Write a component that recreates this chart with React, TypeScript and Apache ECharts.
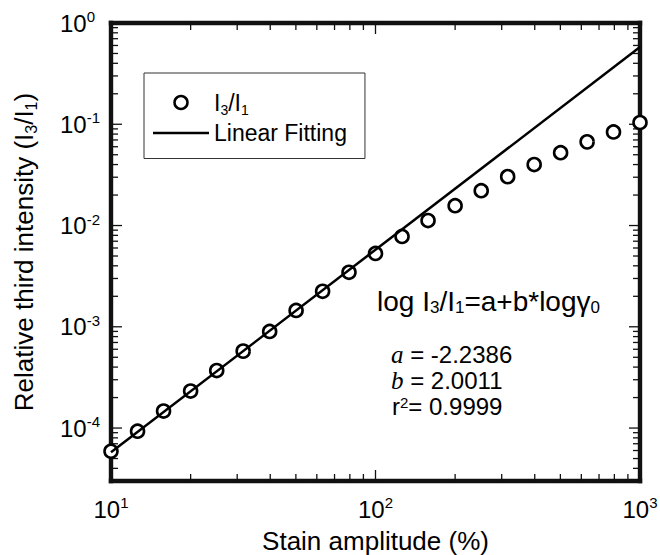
import React, { useEffect, useRef } from 'react';
import * as echarts from 'echarts';

// ---- data ----
const strainAmplitude = [10, 12.6, 15.8, 20, 25.1, 31.6, 39.8, 50.1, 63.1, 79.4, 100, 126, 158, 200, 251, 316, 398, 501, 631, 794, 1000];
const intensityRatio = [5.9e-5, 9.3e-5, 1.47e-4, 2.32e-4, 3.7e-4, 5.75e-4, 9.0e-4, 1.45e-3, 2.24e-3, 3.45e-3, 5.3e-3, 7.8e-3, 1.12e-2, 1.57e-2, 2.21e-2, 3.04e-2, 4.0e-2, 5.24e-2, 6.7e-2, 8.4e-2, 0.104];
const fitX = [10, 1000];
const fitY = [5.76e-5, 0.578];
const xRange = [10, 1000];
const yRange = [3e-5, 1];
const xMajorTicks = [10, 100, 1000];
const yMajorTicks = [1e-4, 1e-3, 1e-2, 1e-1, 1];
const minorMultipliers = [2, 3, 4, 5, 6, 7, 8, 9];
const fitA = '-2.2386';
const fitB = '2.0011';
const fitR2 = '0.9999';
const seriesNames = ['I3/I1', 'Linear Fitting'];

const L = Math.log10;
const F = '"Liberation Sans", Arial, Helvetica, sans-serif';
const SERIF = '"Liberation Serif", "Times New Roman", serif';

function minorTicks(lo: number, hi: number): number[] {
  const out: number[] = [];
  for (let e = Math.floor(L(lo)); e < Math.ceil(L(hi)); e++) {
    for (const m of minorMultipliers) {
      const v = m * Math.pow(10, e);
      if (v > lo * 1.0001 && v < hi * 0.9999) out.push(L(v));
    }
  }
  return out;
}

const xMin = L(xRange[0]);
const xMax = L(xRange[1]);
const yMin = L(yRange[0]);
const yMax = L(yRange[1]);
const xMajorLog = xMajorTicks.map(L);
const yMajorLog = yMajorTicks.map(L);
const xMinorLog = minorTicks(xRange[0], xRange[1]);
const yMinorLog = minorTicks(yRange[0], yRange[1]);

// frame + tick marks: [x, y, kind(0 = x tick, 1 = y tick, 2 = frame), major(1/0)]
const frameData: number[][] = [
  [xMin, yMin, 2, 0],
  ...xMajorLog.map((v) => [v, yMin, 0, 1]),
  ...xMinorLog.map((v) => [v, yMin, 0, 0]),
  ...yMajorLog.map((v) => [xMin, v, 1, 1]),
  ...yMinorLog.map((v) => [xMin, v, 1, 0]),
];

const labelRich = {
  b: { fontSize: 24, lineHeight: 28, fontFamily: F, color: '#000' },
  s: { fontSize: 15, lineHeight: 15, verticalAlign: 'top', fontFamily: F, color: '#000' },
};
const powLabel = (v: number) => `{b|10}{s|${Math.round(v)}}`;

const baseAxis = {
  type: 'value',
  axisLine: { show: false, onZero: false },
  axisTick: { show: false },
  splitLine: { show: false },
};

const FRAME_W = 4.4;
const TICK_W = 1.3;
const INK = '#111';

const option: any = {
  animation: false,
  textStyle: { fontFamily: F, color: '#000' },
  grid: {
    left: 111, right: 20, top: 23, bottom: 74,
    containLabel: false, outerBoundsMode: 'none',
  },
  xAxis: [
    {
      ...baseAxis,
      min: xMin,
      max: xMax,
      position: 'bottom',
      axisLabel: { show: true, customValues: xMajorLog, margin: 14, color: '#000', formatter: powLabel, rich: labelRich },
      name: 'Stain amplitude (%)',
      nameLocation: 'middle',
      nameGap: 42,
      nameTextStyle: { fontSize: 26, fontFamily: F, color: '#000', lineHeight: 30 },
    },
  ],
  yAxis: [
    {
      ...baseAxis,
      min: yMin,
      max: yMax,
      position: 'left',
      axisLabel: { show: true, customValues: yMajorLog, margin: 51, align: 'left', color: '#000', formatter: powLabel, rich: labelRich },
      name: '{n|Relative third intensity (I}{s|3}{n|/I}{s|1}{n|)}',
      nameLocation: 'middle',
      nameRotate: 90,
      nameGap: 72,
      nameTextStyle: {
        fontSize: 26, fontFamily: F, color: '#000',
        rich: {
          n: { fontSize: 26, lineHeight: 30, fontFamily: F, color: '#000' },
          s: { fontSize: 16, lineHeight: 16, verticalAlign: 'bottom', fontFamily: F, color: '#000' },
        },
      },
    },
  ],
  legend: {
    orient: 'vertical',
    left: 144,
    top: 73,
    padding: [18, 18, 14, 9],
    itemWidth: 56,
    itemHeight: 13,
    itemGap: 5,
    borderColor: '#333',
    borderWidth: 1,
    backgroundColor: '#fff',
    selectedMode: false,
    data: [
      { name: seriesNames[0], icon: 'circle', itemStyle: { color: '#fff', borderColor: '#000', borderWidth: 2.5, opacity: 1 } },
      { name: seriesNames[1], icon: 'path://M0,0H56V2.5H0Z', itemStyle: { color: '#000', borderWidth: 0, opacity: 1 } },
    ],
    formatter: (name: string) => (name === seriesNames[0] ? '{n|I}{s|3}{n|/I}{s|1}' : `{n|${name}}`),
    textStyle: {
      fontSize: 23, fontFamily: F, color: '#000',
      rich: {
        n: { fontSize: 23, lineHeight: 28, fontFamily: F, color: '#000' },
        s: { fontSize: 14, lineHeight: 14, verticalAlign: 'bottom', fontFamily: F, color: '#000' },
      },
    },
  },
  series: [
    {
      name: 'frame',
      type: 'custom',
      coordinateSystem: 'cartesian2d',
      silent: true,
      clip: false,
      z: 1,
      dimensions: ['x', 'y', 'kind', 'major'],
      encode: { x: 0, y: 1 },
      data: frameData,
      renderItem: (params: any, api: any) => {
        const cs = params.coordSys;
        const kind = api.value(2);
        const fill = { fill: INK, stroke: null as any, lineWidth: 0 };
        const h = FRAME_W / 2;
        if (kind === 2) {
          return {
            type: 'group',
            children: [
              { type: 'rect', shape: { x: cs.x - h, y: cs.y - h, width: cs.width + FRAME_W, height: FRAME_W }, style: fill },
              { type: 'rect', shape: { x: cs.x - h, y: cs.y + cs.height - h, width: cs.width + FRAME_W, height: FRAME_W }, style: fill },
              { type: 'rect', shape: { x: cs.x - h, y: cs.y - h, width: FRAME_W, height: cs.height + FRAME_W }, style: fill },
              { type: 'rect', shape: { x: cs.x + cs.width - h, y: cs.y - h, width: FRAME_W, height: cs.height + FRAME_W }, style: fill },
            ],
          };
        }
        const p = api.coord([api.value(0), api.value(1)]);
        const len = api.value(3) ? 11 : 7;
        const t = TICK_W / 2;
        if (kind === 0) {
          const x = p[0];
          const b = cs.y + cs.height;
          return {
            type: 'group',
            children: [
              { type: 'rect', shape: { x: x - t, y: b - len, width: TICK_W, height: len }, style: fill },
              { type: 'rect', shape: { x: x - t, y: cs.y, width: TICK_W, height: len }, style: fill },
            ],
          };
        }
        const y = p[1];
        const r = cs.x + cs.width;
        return {
          type: 'group',
          children: [
            { type: 'rect', shape: { x: cs.x, y: y - t, width: len, height: TICK_W }, style: fill },
            { type: 'rect', shape: { x: r - len, y: y - t, width: len, height: TICK_W }, style: fill },
          ],
        };
      },
    },
    {
      name: seriesNames[0],
      type: 'scatter',
      symbol: 'circle',
      symbolSize: 13,
      clip: false,
      z: 2,
      itemStyle: { color: '#fff', borderColor: '#000', borderWidth: 2.6, opacity: 1 },
      emphasis: { disabled: true },
      data: strainAmplitude.map((x, i) => [L(x), L(intensityRatio[i])]),
    },
    {
      name: seriesNames[1],
      type: 'line',
      symbol: 'none',
      z: 3,
      lineStyle: { color: '#000', width: 2.5 },
      itemStyle: { color: '#000' },
      emphasis: { disabled: true },
      data: fitX.map((x, i) => [L(x), L(fitY[i])]),
    },
  ],
  graphic: [
    {
      type: 'text', x: 377, y: 301, z: 10,
      style: {
        text: '{n|log I}{s|3}{n|/I}{s|1}{n|=a+b*log\u03B3}{s|0}',
        verticalAlign: 'middle',
        rich: {
          n: { fontSize: 28, lineHeight: 30, fontFamily: F, fill: '#000' },
          s: { fontSize: 17, lineHeight: 17, verticalAlign: 'bottom', fontFamily: F, fill: '#000' },
        },
      },
    },
    {
      type: 'text', x: 391, y: 354, z: 10,
      style: {
        text: `{i|a}{n| = ${fitA}}`,
        verticalAlign: 'middle',
        rich: {
          i: { fontSize: 25, lineHeight: 22, fontFamily: SERIF, fontStyle: 'italic', fill: '#000' },
          n: { fontSize: 24, lineHeight: 22, fontFamily: F, fill: '#000' },
        },
      },
    },
    {
      type: 'text', x: 391, y: 380, z: 10,
      style: {
        text: `{i|b}{n| = ${fitB}}`,
        verticalAlign: 'middle',
        rich: {
          i: { fontSize: 25, lineHeight: 22, fontFamily: SERIF, fontStyle: 'italic', fill: '#000' },
          n: { fontSize: 24, lineHeight: 22, fontFamily: F, fill: '#000' },
        },
      },
    },
    {
      type: 'text', x: 392, y: 406, z: 10,
      style: {
        text: `{n|r}{s|2}{n|= ${fitR2}}`,
        verticalAlign: 'middle',
        rich: {
          n: { fontSize: 24, lineHeight: 22, fontFamily: F, fill: '#000' },
          s: { fontSize: 15, lineHeight: 15, verticalAlign: 'top', fontFamily: F, fill: '#000' },
        },
      },
    },
  ],
};

export default function App() {
  const ref = useRef<HTMLDivElement>(null);
  useEffect(() => {
    if (!ref.current) return;
    const chart = echarts.init(ref.current, null, { renderer: 'svg' });
    chart.setOption(option);
    return () => chart.dispose();
  }, []);
  return (
    <div
      ref={ref}
      style={{ position: 'fixed', left: 0, top: 0, width: 660, height: 555, background: '#fff' }}
    />
  );
}
